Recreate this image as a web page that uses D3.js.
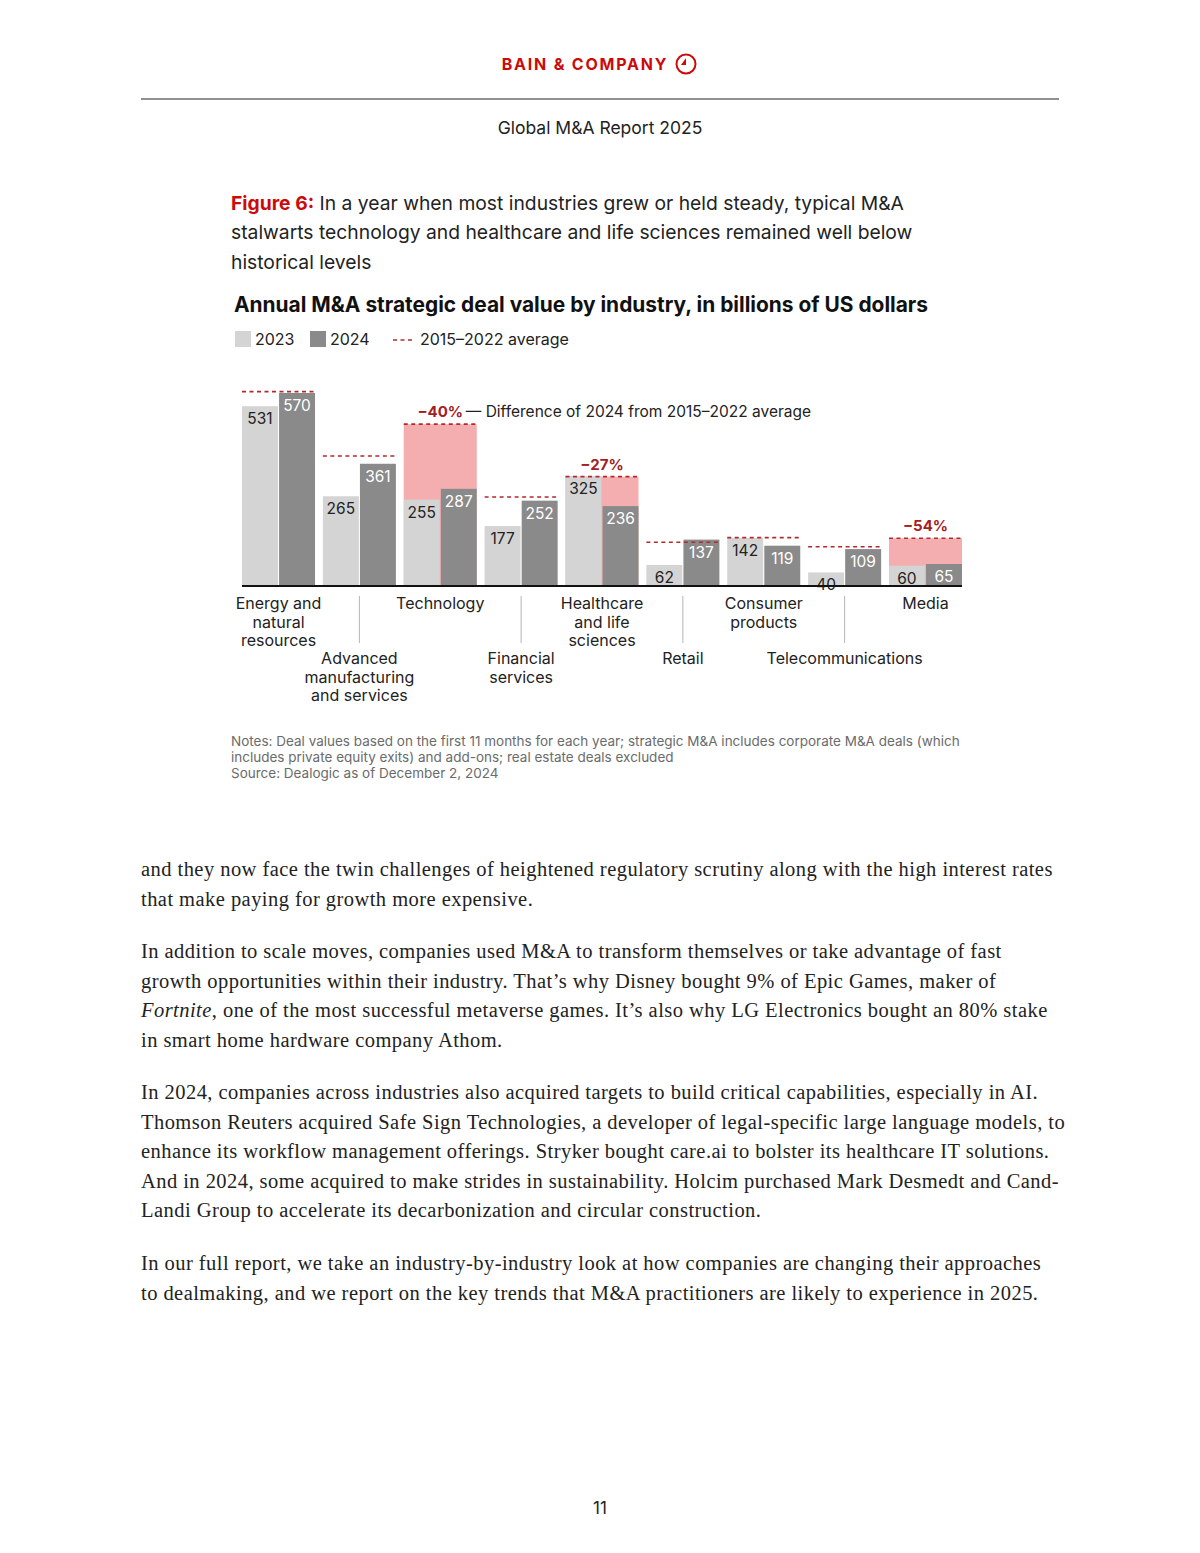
<!DOCTYPE html>
<html lang="en">
<head>
<meta charset="utf-8">
<script src="https://d3js.org/d3.v7.min.js"></script>
<style>
  html, body { margin: 0; padding: 0; background: #fff; }
  svg { display: block; }
  .sans { font-family: Inter, "Noto Sans", sans-serif; }
  .serif { font-family: "Liberation Serif", "DejaVu Serif", serif; }
</style>
</head>
<body>
<svg id="page" width="1200" height="1553"></svg>
<script>
// ---- data ----
var industries = ["Energy and natural resources", "Advanced manufacturing and services",
  "Technology", "Financial services", "Healthcare and life sciences", "Retail",
  "Consumer products", "Telecommunications", "Media"];
var labelLines = [["Energy and", "natural", "resources"], ["Advanced", "manufacturing", "and services"],
  ["Technology"], ["Financial", "services"], ["Healthcare", "and life", "sciences"], ["Retail"],
  ["Consumer", "products"], ["Telecommunications"], ["Media"]];
var years = ["2023", "2024"];
var values2023 = [531, 265, 255, 177, 325, 62, 142, 40, 60];
var values2024 = [570, 361, 287, 252, 236, 137, 119, 109, 65];
var avg2015_2022 = [574, 384, 478, 263, 323, 129, 143, 116, 141];
var diffLabels = [null, null, "\u221240%", null, "\u221227%", null, null, null, "\u221254%"];

var colors = { y2023: "#d4d4d4", y2024: "#8a8a8a", avg: "#b22a2e", gap: "#f4aeb0", pct: "#a3201f" };

var svg = d3.select("#page");

// ---- header ----
svg.append("text").attr("class", "sans").attr("x", 585).attr("y", 70)
  .attr("text-anchor", "middle").attr("font-size", 16).attr("font-weight", 700)
  .attr("letter-spacing", "1.8px").attr("fill", "#cc0a0a").text("BAIN & COMPANY");
var logo = svg.append("g").attr("transform", "translate(686,64)");
logo.append("circle").attr("r", 9.5).attr("fill", "none").attr("stroke", "#cc0a0a").attr("stroke-width", 2);
logo.append("path").attr("d", "M0,-6 L0,1 L-5,1 Z").attr("fill", "#cc0a0a");
svg.append("line").attr("x1", 141).attr("x2", 1059).attr("y1", 99).attr("y2", 99)
  .attr("stroke", "#222").attr("stroke-width", 1.2);
svg.append("text").attr("class", "sans").attr("x", 600).attr("y", 134)
  .attr("text-anchor", "middle").attr("font-size", 17.5).attr("fill", "#222").text("Global M&A Report 2025");

// ---- figure caption ----
var cap = svg.append("text").attr("class", "sans").attr("font-size", 19.3).attr("fill", "#222");
var c1 = cap.append("tspan").attr("x", 231).attr("y", 210);
c1.append("tspan").attr("font-weight", 700).attr("fill", "#cc0a0a").text("Figure 6:");
c1.append("tspan").text(" In a year when most industries grew or held steady, typical M&A");
cap.append("tspan").attr("x", 231).attr("y", 239).text("stalwarts technology and healthcare and life sciences remained well below");
cap.append("tspan").attr("x", 231).attr("y", 269).text("historical levels");

svg.append("text").attr("class", "sans").attr("x", 234).attr("y", 312)
  .attr("font-size", 20.9).attr("font-weight", 700).attr("fill", "#111")
  .text("Annual M&A strategic deal value by industry, in billions of US dollars");

// ---- legend ----
var leg = svg.append("g").attr("class", "sans").attr("font-size", 16).attr("fill", "#222");
leg.append("rect").attr("x", 235).attr("y", 331).attr("width", 16).attr("height", 16).attr("fill", colors.y2023);
leg.append("text").attr("x", 255).attr("y", 345).text("2023");
leg.append("rect").attr("x", 310).attr("y", 331).attr("width", 16).attr("height", 16).attr("fill", colors.y2024);
leg.append("text").attr("x", 330).attr("y", 345).text("2024");
leg.append("line").attr("x1", 393).attr("x2", 415).attr("y1", 340).attr("y2", 340)
  .attr("stroke", colors.avg).attr("stroke-width", 1.5).attr("stroke-dasharray", "4,3.5");
leg.append("text").attr("x", 420).attr("y", 345).text("2015\u20132022 average");

// ---- chart ----
var x0 = d3.scaleBand().domain(industries).range([242, 962]).paddingInner(0.097).paddingOuter(0);
var x1 = d3.scaleBand().domain(years).range([0, x0.bandwidth()]).paddingInner(0.03);
var y = d3.scaleLinear().domain([0, 570]).range([586, 393]);

var rows = industries.map(function (name, i) {
  return { name: name, i: i, v: [values2023[i], values2024[i]], avg: avg2015_2022[i], diff: diffLabels[i] };
});

var chart = svg.append("g").attr("class", "sans");

var g = chart.selectAll(".grp").data(rows).enter().append("g")
  .attr("class", "grp").attr("transform", function (d) { return "translate(" + x0(d.name) + ",0)"; });

// shortfall area behind the bars
g.filter(function (d) { return d.diff; }).append("rect")
  .attr("x", 0).attr("width", x0.bandwidth())
  .attr("y", function (d) { return y(d.avg); })
  .attr("height", function (d) { return y(0) - y(d.avg); })
  .attr("fill", colors.gap);

g.selectAll(".bar").data(function (d) {
  return years.map(function (yr, j) { return { yr: yr, v: d.v[j] }; });
}).enter().append("rect")
  .attr("class", "bar")
  .attr("x", function (d) { return x1(d.yr); })
  .attr("width", x1.bandwidth())
  .attr("y", function (d) { return y(d.v); })
  .attr("height", function (d) { return y(0) - y(d.v); })
  .attr("fill", function (d) { return d.yr === "2023" ? colors.y2023 : colors.y2024; });

g.selectAll(".val").data(function (d) {
  return years.map(function (yr, j) { return { yr: yr, v: d.v[j] }; });
}).enter().append("text")
  .attr("class", "val")
  .attr("x", function (d) { return x1(d.yr) + x1.bandwidth() / 2; })
  .attr("y", function (d) { return y(d.v) + 18; })
  .attr("text-anchor", "middle").attr("font-size", 15.5)
  .attr("fill", function (d) { return d.yr === "2023" ? "#222" : "#fff"; })
  .text(function (d) { return d.v; });

g.append("line")
  .attr("x1", 0).attr("x2", x0.bandwidth())
  .attr("y1", function (d) { return y(d.avg); }).attr("y2", function (d) { return y(d.avg); })
  .attr("stroke", colors.avg).attr("stroke-width", 1.6).attr("stroke-dasharray", "4,3.5");

g.filter(function (d) { return d.diff; }).append("text")
  .attr("x", x0.bandwidth() / 2).attr("y", function (d) { return y(d.avg) - 7; })
  .attr("text-anchor", "middle").attr("font-size", 15).attr("font-weight", 700)
  .attr("fill", colors.pct).text(function (d) { return d.diff; });

chart.append("text").attr("x", x0("Technology") + x0.bandwidth() - 11).attr("y", y(avg2015_2022[2]) - 7)
  .attr("font-size", 15.5).attr("fill", "#222")
  .text("\u2014 Difference of 2024 from 2015\u20132022 average");

chart.append("line").attr("x1", 242).attr("x2", 962).attr("y1", y(0)).attr("y2", y(0))
  .attr("stroke", "#111").attr("stroke-width", 2);

// category labels in two staggered rows
var cat = chart.selectAll(".cat").data(rows).enter().append("text")
  .attr("class", "cat").attr("text-anchor", "middle").attr("font-size", 16).attr("fill", "#222");
cat.selectAll("tspan").data(function (d) {
  return labelLines[d.i].map(function (t, k) { return { t: t, k: k, d: d }; });
}).enter().append("tspan")
  .attr("x", function (e) { return x0(e.d.name) + x0.bandwidth() / 2; })
  .attr("y", function (e) { return (e.d.i % 2 ? 664 : 609) + e.k * 18.5; })
  .text(function (e) { return e.t; });

chart.selectAll(".sep").data(rows.filter(function (d) { return d.i % 2; })).enter().append("line")
  .attr("x1", function (d) { return x0(d.name) + x0.bandwidth() / 2; })
  .attr("x2", function (d) { return x0(d.name) + x0.bandwidth() / 2; })
  .attr("y1", 596).attr("y2", 643).attr("stroke", "#b5b5b5").attr("stroke-width", 1);

// notes
var notes = svg.append("text").attr("class", "sans").attr("font-size", 13.5).attr("fill", "#6b6b6b");
["Notes: Deal values based on the first 11 months for each year; strategic M&A includes corporate M&A deals (which",
 "includes private equity exits) and add-ons; real estate deals excluded",
 "Source: Dealogic as of December 2, 2024"].forEach(function (t, k) {
  notes.append("tspan").attr("x", 231).attr("y", 746 + k * 16.2).text(t);
});

// ---- body text ----
var paragraphs = [
  { y: 876, lines: [["and they now face the twin challenges of heightened regulatory scrutiny along with the high interest rates"],
                    ["that make paying for growth more expensive."]] },
  { y: 958, lines: [["In addition to scale moves, companies used M&A to transform themselves or take advantage of fast"],
                    ["growth opportunities within their industry. That\u2019s why Disney bought 9% of Epic Games, maker of"],
                    ["*Fortnite", ", one of the most successful metaverse games. It\u2019s also why LG Electronics bought an 80% stake"],
                    ["in smart home hardware company Athom."]] },
  { y: 1099, lines: [["In 2024, companies across industries also acquired targets to build critical capabilities, especially in AI."],
                     ["Thomson Reuters acquired Safe Sign Technologies, a developer of legal-specific large language models, to"],
                     ["enhance its workflow management offerings. Stryker bought care.ai to bolster its healthcare IT solutions."],
                     ["And in 2024, some acquired to make strides in sustainability. Holcim purchased Mark Desmedt and Cand-"],
                     ["Landi Group to accelerate its decarbonization and circular construction."]] },
  { y: 1270, lines: [["In our full report, we take an industry-by-industry look at how companies are changing their approaches"],
                     ["to dealmaking, and we report on the key trends that M&A practitioners are likely to experience in 2025."]] }
];
var body = svg.append("text").attr("class", "serif").attr("font-size", 20.5)
  .attr("letter-spacing", "0.45px").attr("fill", "#222");
paragraphs.forEach(function (p) {
  p.lines.forEach(function (parts, k) {
    var line = body.append("tspan").attr("x", 141).attr("y", p.y + k * 29.6);
    parts.forEach(function (s) {
      if (s[0] === "*") line.append("tspan").attr("font-style", "italic").text(s.slice(1));
      else line.append("tspan").text(s);
    });
  });
});

svg.append("text").attr("class", "sans").attr("x", 600).attr("y", 1514)
  .attr("text-anchor", "middle").attr("font-size", 17).attr("fill", "#222").text("11");
</script>
</body>
</html>
